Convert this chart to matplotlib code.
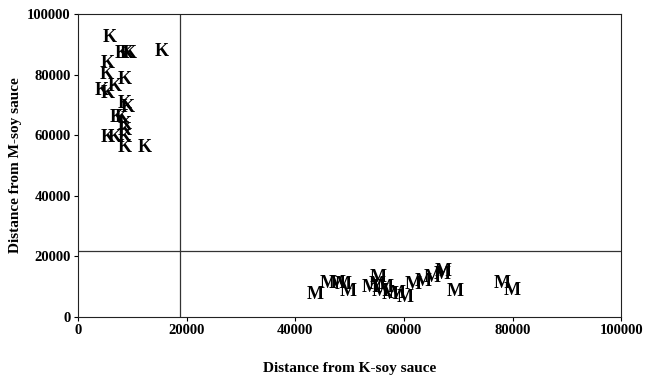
import matplotlib
matplotlib.use("Agg")
from matplotlib import pyplot as plt

# K-soy sauce samples: distance from K, distance from M
k_x = [5900, 8100, 9000, 9600, 15500, 5500, 5300, 8700, 6800, 4400, 5500,
       8700, 9200, 7200, 8100, 8700, 8700, 5500, 6800, 8700, 8700, 12300]
k_y = [92100, 87100, 87100, 87100, 87500, 83800, 79900, 78500, 75900, 74600, 73900,
       70600, 69000, 65700, 65700, 63400, 61700, 59400, 59400, 59400, 56100, 55800]

# M-soy sauce samples
m_x = [43600, 46000, 47700, 48800, 49700, 53800, 55200, 55100, 55600, 56500, 57500,
       58700, 60200, 61700, 63500, 65200, 67000, 67200, 69400, 78100, 79900]
m_y = [7300, 11200, 11200, 10600, 8300, 9600, 13200, 10600, 8300, 9600, 7300,
       7900, 6600, 10600, 11600, 12900, 13900, 14900, 8300, 11200, 8900]

ticks = [0, 20000, 40000, 60000, 80000, 100000]
cut_x = 18800
cut_y = 21800

plt.rcParams['font.family'] = ['Liberation Serif', 'DejaVu Serif']

fig = plt.figure(figsize=(6.54, 3.77), dpi=100)
ax = fig.add_axes([0.119, 0.159, 0.831, 0.804])

for x, y in zip(k_x, k_y):
    ax.text(x, y, 'K', ha='center', va='center', fontsize=13, fontweight='bold')
for x, y in zip(m_x, m_y):
    ax.text(x, y, 'M', ha='center', va='center', fontsize=13, fontweight='bold')

ax.axvline(cut_x, color='#333333', lw=0.9)
ax.axhline(cut_y, color='#333333', lw=0.9)

ax.set_xlim(0, 100000)
ax.set_ylim(0, 100000)
ax.set_xticks(ticks)
ax.set_yticks(ticks)
ax.set_xticklabels([str(t) for t in ticks], fontsize=10.5, fontweight='bold')
ax.set_yticklabels([str(t) for t in ticks], fontsize=10.5, fontweight='bold')
ax.tick_params(length=3, width=0.8, pad=2)
for s in ax.spines.values():
    s.set_linewidth(0.8)
    s.set_color('#222222')

ax.set_xlabel('Distance from K-soy sauce', fontsize=11, fontweight='bold', labelpad=18)
ax.set_ylabel('Distance from M-soy sauce', fontsize=11, fontweight='bold', labelpad=4)

fig.savefig('out.png', dpi=100)
